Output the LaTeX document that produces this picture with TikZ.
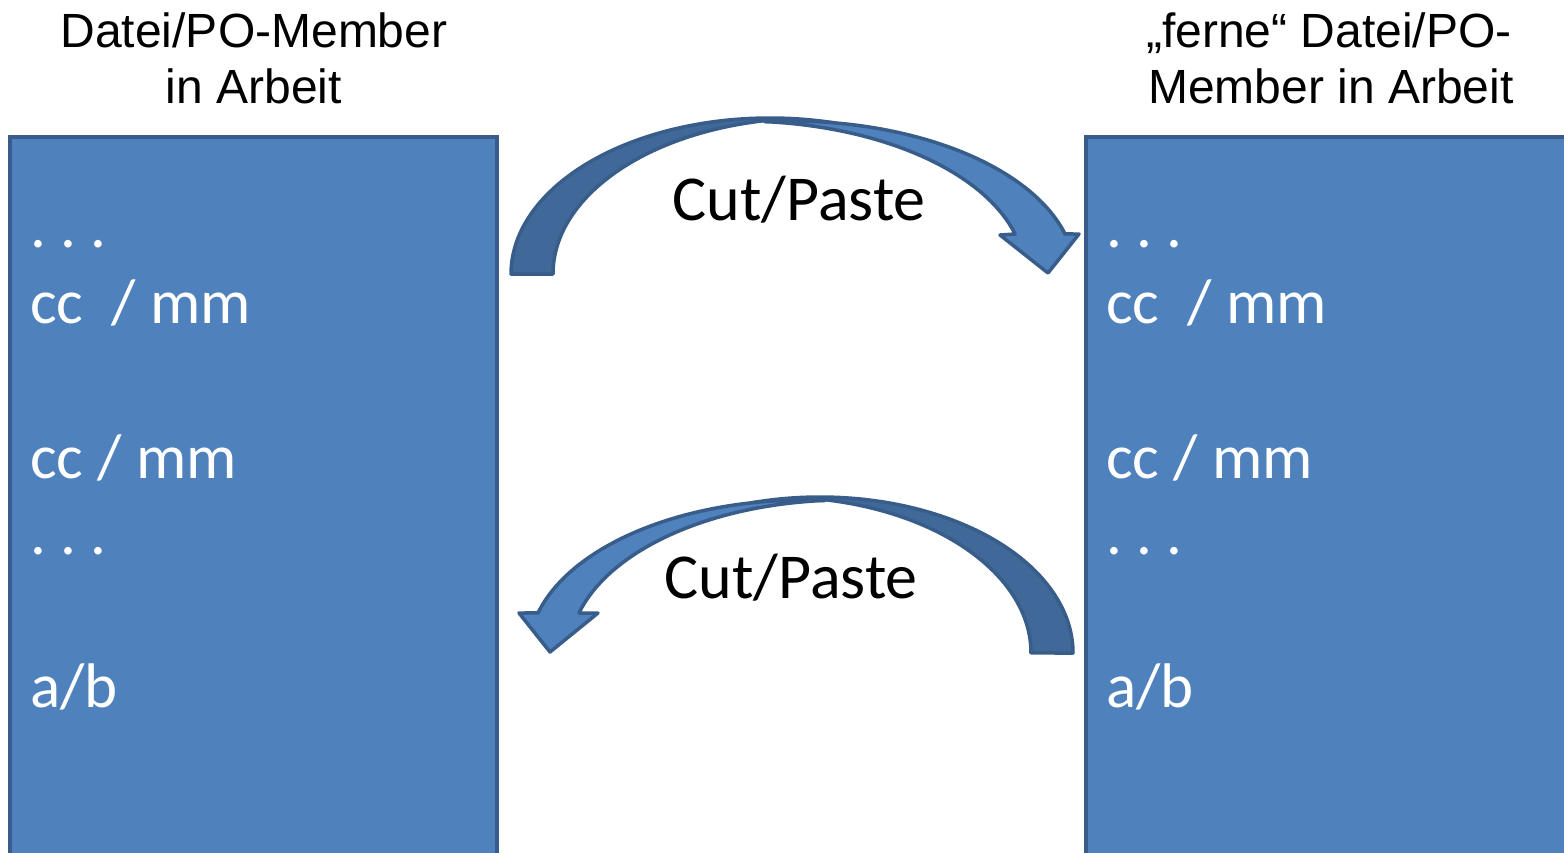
\documentclass[tikz,border=0pt]{standalone}
\usepackage{fontspec}
\setmainfont{Carlito}
\newfontfamily\arialfont{Liberation Sans}
\definecolor{boxblue}{HTML}{4F81BD}
\definecolor{edgeblue}{HTML}{385D8A}
\definecolor{shadeblue}{HTML}{406898}
\frenchspacing
\begin{document}
\begin{tikzpicture}[x=1pt,y=-1pt,
  filebox/.style={draw=edgeblue, fill=boxblue, line width=4pt, minimum width=487pt, minimum height=743pt, inner sep=0pt, outer sep=0pt, rectangle},
  boxtext/.style={anchor=base west, inner sep=0pt, text=white, font=\fontsize{63}{76}\selectfont},
  titletext/.style={anchor=base, inner sep=0pt, font=\arialfont\fontsize{48}{58}\selectfont},
  cptext/.style={anchor=base, inner sep=0pt, font=\fontsize{64}{77}\selectfont},
  backband/.style={draw=edgeblue, fill=shadeblue, line width=3.5pt, line join=round},
  frontband/.style={draw=edgeblue, fill=boxblue, line width=3.5pt, line join=round}]
\useasboundingbox (0,0) rectangle (1564,852);
\clip (0,0) rectangle (1564,852);

% boxes
\node[filebox] (leftbox) at (253.5,508.5) {};
\node[filebox] (rightbox) at (1329.5,508.5) {};

% titles
\node[titletext] (lt1) at (254,47) {Datei/PO-Member};
\node[titletext] (lt2) at (254,103) {in Arbeit};
\node[titletext] (rt1) at (1329,47) {„ferne“ Datei/PO-};
\node[titletext] (rt2) at (1331,103) {Member in Arbeit};

% left box text
\node[boxtext] (l1) at (30,247) {. . .};
\node[boxtext] (l2) at (30,323) {cc\ \ / mm};
\node[boxtext] (l3) at (30,478) {cc / mm};
\node[boxtext] (l4) at (30,554) {. . .};
\node[boxtext] (l5) at (30,707) {a/b};

% right box text
\node[boxtext] (r1) at (1106,247) {. . .};
\node[boxtext] (r2) at (1106,323) {cc\ \ / mm};
\node[boxtext] (r3) at (1106,478) {cc / mm};
\node[boxtext] (r4) at (1106,554) {. . .};
\node[boxtext] (r5) at (1106,707) {a/b};

% upper curved arrow (left to right)
\draw[backband] (511,274) arc[start angle=180, end angle=284.31, x radius=259, y radius=156]
   arc[start angle=278.88, end angle=264.97, x radius=285, y radius=153]
   -- (765,120.6) arc[start angle=259.54, end angle=180, x radius=259, y radius=156] -- cycle;
\draw[frontband] (765,121.59) arc[start angle=264.97, end angle=344.84, x radius=285, y radius=153]
  -- (1079,234) -- (1048,273) -- (1000,235) -- (1015.09,234)
  arc[start angle=344.84, end angle=275.03, x radius=285, y radius=153] -- cycle;

% lower curved arrow (right to left)
\draw[backband] (1073,653) arc[start angle=360, end angle=254.17, x radius=253, y radius=156]
   arc[start angle=258.83, end angle=274.26, x radius=276.1, y radius=153]
   -- (825,499.7) arc[start angle=280.71, end angle=360, x radius=253, y radius=156] -- cycle;
\draw[frontband] (825,500.4) arc[start angle=274.26, end angle=195.157, x radius=276.1, y radius=153]
  -- (519,613) -- (550,652) -- (598,613) -- (579,613)
  arc[start angle=195.157, end angle=265.74, x radius=276.1, y radius=153] -- cycle;

\node[cptext] (cp1) at (799,220) {Cut/Paste};
\node[cptext] (cp2) at (791,598) {Cut/Paste};
\end{tikzpicture}
\end{document}
